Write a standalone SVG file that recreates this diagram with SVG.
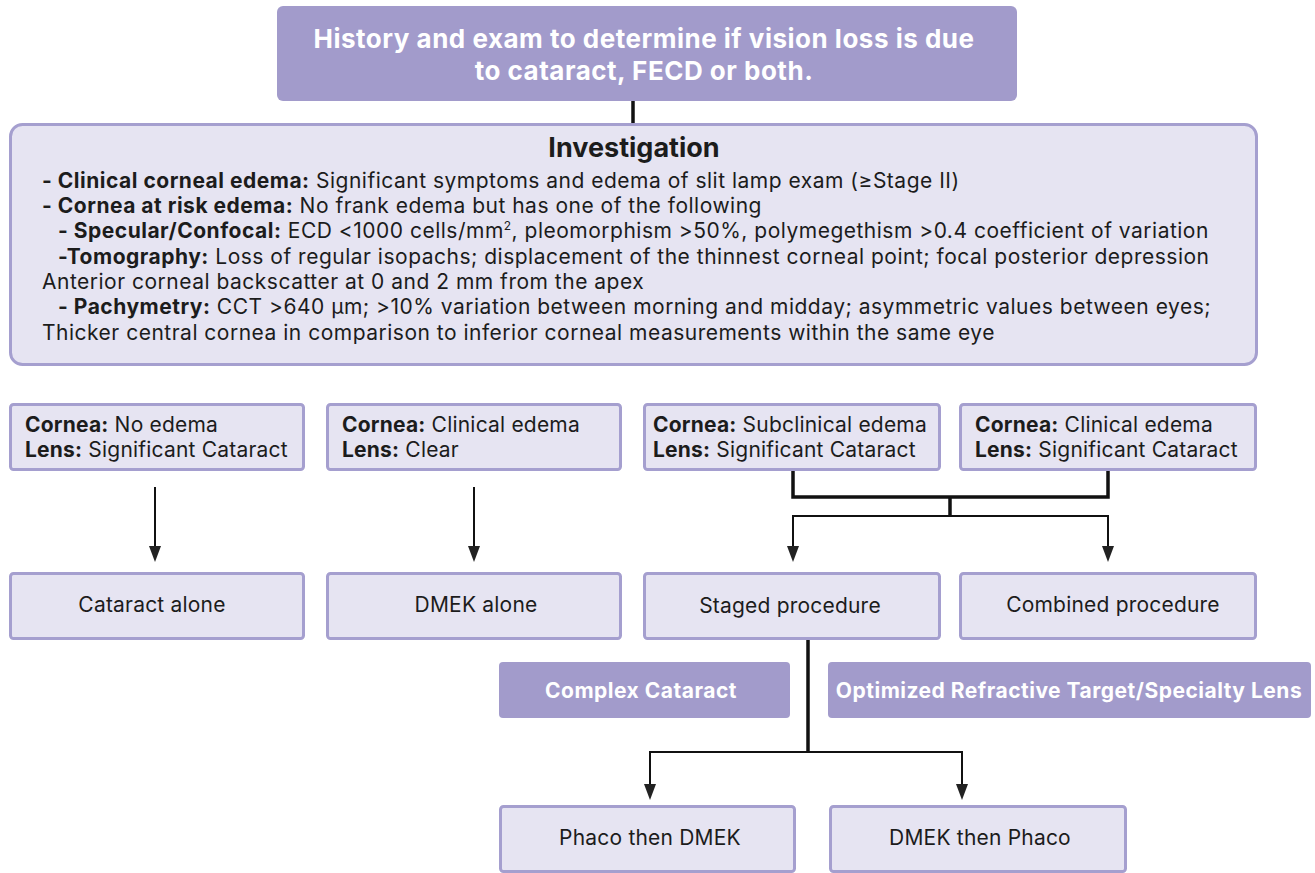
<svg xmlns="http://www.w3.org/2000/svg" width="1315" height="873" viewBox="0 0 1315 873">
<defs>
<style>
text{font-family:Inter,"Noto Sans","Liberation Sans",sans-serif;fill:#1c1c1c}
.dark{fill:#a29bcb}
.light{fill:#e6e4f2;stroke:#a59fcf;stroke-width:3}
.wt{fill:#ffffff;font-weight:700}
.b{font-weight:700}
.t{font-size:21px;letter-spacing:0.2px}
.inv{font-size:21px;letter-spacing:0.5px}
.c{text-anchor:middle}
.ln{fill:none;stroke:#111;stroke-width:2}
.thk{fill:none;stroke:#111;stroke-width:3.5}
</style>
</defs>
<g id="connectors">
<line class="thk" x1="633" y1="101" x2="633" y2="125" stroke-width="4"/>
<line class="ln" x1="155" y1="487" x2="155" y2="548"/>
<path d="M149,546 L155,562 L161,546 Z" fill="#222"/>
<line class="ln" x1="474" y1="487" x2="474" y2="548"/>
<path d="M468,546 L474,562 L480,546 Z" fill="#222"/>
<path class="thk" d="M793,470 V497 H1108 V470"/>
<line class="thk" x1="950" y1="497" x2="950" y2="516" stroke-width="3"/>
<path class="ln" d="M793,548 V516 H1108 V548" stroke-width="2.5"/>
<path d="M787,546 L793,562 L799,546 Z" fill="#222"/>
<path d="M1102,546 L1108,562 L1114,546 Z" fill="#222"/>
<line class="thk" x1="808" y1="638" x2="808" y2="752" stroke-width="3"/>
<path class="ln" d="M650,786 V752 H962 V786" stroke-width="2.5"/>
<path d="M644,784 L650,800 L656,784 Z" fill="#222"/>
<path d="M956,784 L962,800 L968,784 Z" fill="#222"/>
</g>
<g id="n-top">
<rect class="dark" x="277" y="6" width="740" height="95" rx="6"/>
<text class="wt c" x="644" y="48" font-size="26" letter-spacing="0.5">History and exam to determine if vision loss is due</text>
<text class="wt c" x="644" y="80" font-size="26" letter-spacing="0.5">to cataract, FECD or both.</text>
</g>
<g id="n-investigation">
<rect class="light" x="10.5" y="124.5" width="1246" height="240" rx="12"/>
<text class="b c" x="634" y="157" font-size="27" fill="#2b2b2b">Investigation</text>
<text class="inv" x="42" y="188"><tspan class="b">- Clinical corneal edema:</tspan> Significant symptoms and edema of slit lamp exam (≥Stage II)</text>
<text class="inv" x="42" y="213"><tspan class="b">- Cornea at risk edema:</tspan> No frank edema but has one of the following</text>
<text class="inv" x="58" y="238"><tspan class="b">- Specular/Confocal:</tspan> ECD &lt;1000 cells/mm<tspan font-size="12" dy="-8">2</tspan><tspan dy="8">, pleomorphism &gt;50%, polymegethism &gt;0.4 coefficient of variation</tspan></text>
<text class="inv" x="58" y="264"><tspan class="b">-Tomography:</tspan> Loss of regular isopachs; displacement of the thinnest corneal point; focal posterior depression</text>
<text class="inv" x="42" y="289">Anterior corneal backscatter at 0 and 2 mm from the apex</text>
<text class="inv" x="58" y="314"><tspan class="b">- Pachymetry:</tspan> CCT &gt;640 μm; &gt;10% variation between morning and midday; asymmetric values between eyes;</text>
<text class="inv" x="42" y="340">Thicker central cornea in comparison to inferior corneal measurements within the same eye</text>
</g>
<g id="n-c1">
<rect class="light" x="10.5" y="404.5" width="293" height="65" rx="3"/>
<text class="t" x="25" y="432"><tspan class="b">Cornea:</tspan> No edema</text>
<text class="t" x="25" y="457"><tspan class="b">Lens:</tspan> Significant Cataract</text>
</g>
<g id="n-c2">
<rect class="light" x="327.5" y="404.5" width="293" height="65" rx="3"/>
<text class="t" x="342" y="432"><tspan class="b">Cornea:</tspan> Clinical edema</text>
<text class="t" x="342" y="457"><tspan class="b">Lens:</tspan> Clear</text>
</g>
<g id="n-c3">
<rect class="light" x="644.5" y="404.5" width="295" height="65" rx="3"/>
<text class="t" x="653" y="432"><tspan class="b">Cornea:</tspan> Subclinical edema</text>
<text class="t" x="653" y="457"><tspan class="b">Lens:</tspan> Significant Cataract</text>
</g>
<g id="n-c4">
<rect class="light" x="960.5" y="404.5" width="295" height="65" rx="3"/>
<text class="t" x="975" y="432"><tspan class="b">Cornea:</tspan> Clinical edema</text>
<text class="t" x="975" y="457"><tspan class="b">Lens:</tspan> Significant Cataract</text>
</g>
<g id="n-o1">
<rect class="light" x="10.5" y="573.5" width="293" height="65" rx="3"/>
<text class="t c" x="152" y="612">Cataract alone</text>
</g>
<g id="n-o2">
<rect class="light" x="327.5" y="573.5" width="293" height="65" rx="3"/>
<text class="t c" x="476" y="612">DMEK alone</text>
</g>
<g id="n-o3">
<rect class="light" x="644.5" y="573.5" width="295" height="65" rx="3"/>
<text class="t c" x="790" y="613">Staged procedure</text>
</g>
<g id="n-o4">
<rect class="light" x="960.5" y="573.5" width="295" height="65" rx="3"/>
<text class="t c" x="1113" y="612">Combined procedure</text>
</g>
<g id="n-complex">
<rect class="dark" x="499" y="662" width="291" height="56" rx="4"/>
<text class="wt c" x="641" y="698" font-size="21" letter-spacing="0.5">Complex Cataract</text>
</g>
<g id="n-optimized">
<rect class="dark" x="828" y="662" width="483" height="56" rx="4"/>
<text class="wt c" x="1069" y="698" font-size="21" letter-spacing="0.5">Optimized Refractive Target/Specialty Lens</text>
</g>
<g id="n-phaco">
<rect class="light" x="500.5" y="806.5" width="294" height="65" rx="3"/>
<text class="t c" x="650" y="845">Phaco then DMEK</text>
</g>
<g id="n-dmek">
<rect class="light" x="830.5" y="806.5" width="295" height="65" rx="3"/>
<text class="t c" x="980" y="845">DMEK then Phaco</text>
</g>
</svg>
